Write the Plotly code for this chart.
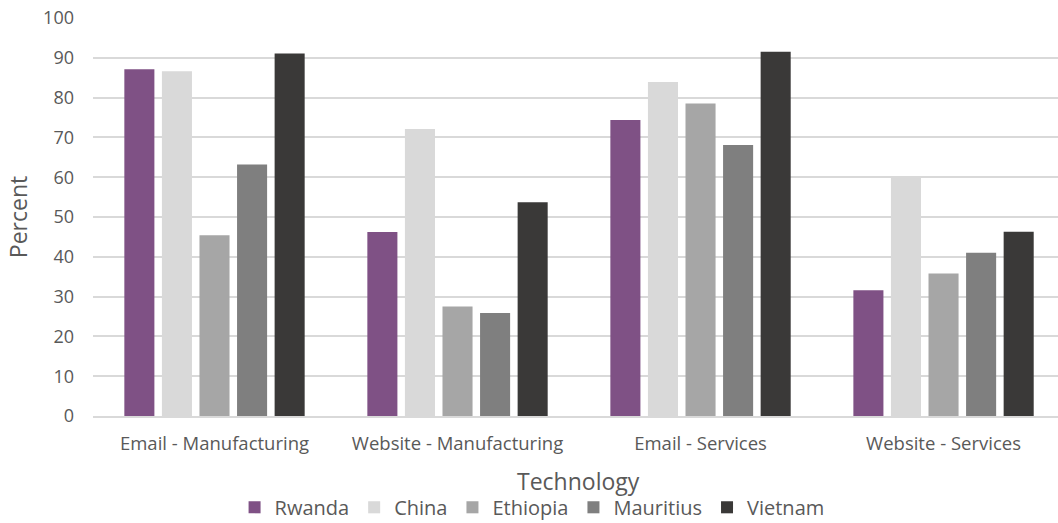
import plotly.graph_objects as go

categories = ["Email - Manufacturing", "Website - Manufacturing", "Email - Services", "Website - Services"]
rwanda = [87.1, 46.2, 74.4, 31.6]
china = [86.6, 72.1, 83.9, 60.2]
ethiopia = [45.4, 27.5, 78.5, 35.8]
mauritius = [63.2, 25.9, 68.1, 41.0]
vietnam = [91.1, 53.7, 91.5, 46.3]
y_ticks = [0, 10, 20, 30, 40, 50, 60, 70, 80, 90, 100]

series = [
    ("Rwanda", rwanda, "#7f5185"),
    ("China", china, "#d9d9d9"),
    ("Ethiopia", ethiopia, "#a6a6a6"),
    ("Mauritius", mauritius, "#7f7f7f"),
    ("Vietnam", vietnam, "#3a3938"),
]

FONT = "'Open Sans', sans-serif"
TEXT = "#595959"

fig = go.Figure()
for name, vals, color in series:
    fig.add_trace(go.Bar(
        name=name, x=categories, y=vals,
        marker=dict(color=color, line=dict(width=0)),
    ))

fig.update_layout(
    width=1058, height=523,
    margin=dict(l=93, r=0, t=18, b=107),
    paper_bgcolor="white", plot_bgcolor="white",
    barmode="group", bargap=0.227, bargroupgap=0.2,
    font=dict(family=FONT, color=TEXT, size=18),
    showlegend=True,
    legend=dict(
        orientation="h", xref="paper", x=0.455, xanchor="center",
        yref="container", y=0.03, yanchor="middle",
        font=dict(size=20, color=TEXT), itemwidth=30, tracegroupgap=0,
        bgcolor="rgba(0,0,0,0)",
    ),
    xaxis=dict(
        type="category", range=[-0.5, 3.471], automargin=False,
        showgrid=False, showline=True, linecolor="#d9d9d9", linewidth=1.5,
        ticks="", tickfont=dict(size=18.5, color=TEXT), ticklabelstandoff=10,
    ),
    yaxis=dict(
        range=[0, 100], tickvals=y_ticks, automargin=False,
        showgrid=True, gridcolor="#d9d9d9", gridwidth=1.5,
        zeroline=False, showline=False, ticks="",
        tickfont=dict(size=18, color=TEXT), ticklabelstandoff=18,
        title=dict(text="Percent", font=dict(size=23, color=TEXT), standoff=9),
    ),
    annotations=[dict(
        text="Technology", xref="paper", yref="paper", x=0.503, y=-0.164,
        xanchor="center", yanchor="middle", showarrow=False,
        font=dict(size=23, color=TEXT, family=FONT),
    )],
)

fig.write_html("out.html")
